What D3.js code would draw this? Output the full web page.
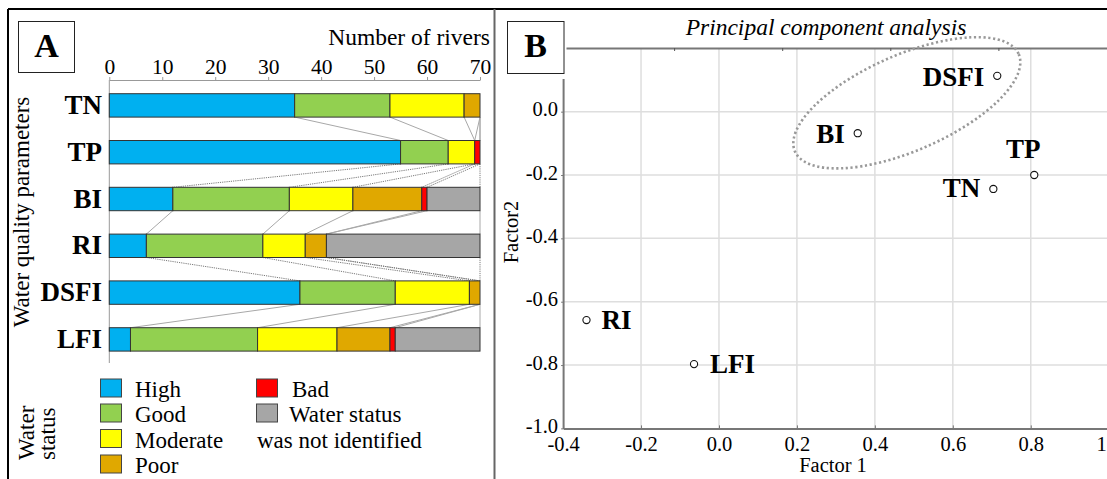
<!DOCTYPE html>
<html><head><meta charset="utf-8">
<script src="https://cdn.jsdelivr.net/npm/d3@7"></script>
<style>
body{margin:0;background:#fff}
svg{display:block}
text{font-family:"Liberation Serif","Times New Roman",serif;fill:#000}
</style>
</head><body><svg id="c" width="1107" height="479"></svg>
<script>
// ---------- Panel A data ----------
const params = ["TN","TP","BI","RI","DSFI","LFI"];
const statusKeys = ["high","good","moderate","poor","bad","na"];
const high = [35,55,12,7,36,4];
const good = [18,9,22,22,18,24];
const moderate = [14,5,12,8,14,15];
const poor = [3,0,13,4,2,10];
const bad = [0,1,1,0,0,1];
const notIdentified = [0,0,10,29,0,16];
const riverTicks = [0,10,20,30,40,50,60,70];
const legendCol1 = ["High","Good","Moderate","Poor"];

// ---------- Panel B data ----------
const pcaLabels = ["DSFI","BI","TP","TN","RI","LFI"];
const factor1 = [0.714,0.356,0.809,0.704,-0.340,-0.064];
const factor2 = [0.113,-0.068,-0.200,-0.244,-0.658,-0.797];
const factor1Ticks = [-0.4,-0.2,0.0,0.2,0.4,0.6,0.8,1.0];
const factor2Ticks = [0.0,-0.2,-0.4,-0.6,-0.8,-1.0];
const clusterCenter = [0.482,0.028];

// ---------- styling ----------
const colors = {high:"#00B0F0",good:"#92D050",moderate:"#FFFF00",poor:"#E0A800",bad:"#FF0000",na:"#A6A6A6"};
const serif = '"Liberation Serif","Times New Roman",serif';
const fmt = d => d3.format(".1f")(d).replace("\u2212","-");
const svg = d3.select("#c");
svg.append("rect").attr("width",1107).attr("height",479).attr("fill","#fff");

// ======================= PANEL A =======================
const rows = params.map((p,i)=>({param:p,high:high[i],good:good[i],moderate:moderate[i],poor:poor[i],bad:bad[i],na:notIdentified[i]}));
const stack = d3.stack().keys(statusKeys)(rows);
const x = d3.scaleLinear().domain([0,70]).range([109.3,480]);
const y = d3.scaleBand().domain(params).range([82,362.8]).paddingInner(0.5).paddingOuter(0.25);

const A = svg.append("g");
const ax = A.append("g").attr("transform","translate(0,80)")
  .call(d3.axisTop(x).tickValues(riverTicks).tickSize(3).tickSizeOuter(0).tickPadding(3));
ax.select(".domain").attr("stroke","#999");
ax.selectAll(".tick line").attr("stroke","#999");
ax.selectAll(".tick text").attr("font-family",serif).attr("font-size",21.5).attr("fill","#000");
A.append("line").attr("x1",x(0)).attr("x2",x(0)).attr("y1",80).attr("y2",363).attr("stroke","#999");
A.append("text").attr("x",490).attr("y",45).attr("text-anchor","end").attr("font-size",23.5).text("Number of rivers");

// connector lines
for(let g=0; g<params.length-1; g++){
  stack.forEach(s=>{
    const a = s[g][1], b = s[g+1][1];
    A.append("line")
      .attr("x1",x(a)).attr("y1",y(params[g])+y.bandwidth())
      .attr("x2",x(b)).attr("y2",y(params[g+1]))
      .attr("stroke", g%2===1 ? "#7a7a7a" : "#a8a8a8")
      .attr("stroke-width", 1)
      .attr("stroke-dasharray", g%2===1 ? "1.2,1" : null);
  });
}

// bars
A.selectAll("g.series").data(stack).join("g").attr("class","series")
  .attr("fill",d=>colors[d.key])
  .selectAll("rect").data(d=>d).join("rect")
  .attr("x",d=>x(d[0])).attr("width",d=>x(d[1])-x(d[0]))
  .attr("y",d=>y(d.data.param)).attr("height",y.bandwidth())
  .attr("stroke",d=>(d[1]-d[0])>0?"#333":"none").attr("stroke-width",1);

// category labels
A.selectAll("text.cat").data(params).join("text").attr("class","cat")
  .attr("x",102).attr("y",d=>y(d)+y.bandwidth()/2+8.5)
  .attr("text-anchor","end").attr("font-weight","bold").attr("font-size",27).text(d=>d);

A.append("text").attr("transform","translate(28.5,212) rotate(-90)").attr("text-anchor","middle")
  .attr("font-size",23).text("Water quality parameters");

// A box
A.append("rect").attr("x",18.5).attr("y",21.5).attr("width",56).attr("height",51).attr("fill","#fff").attr("stroke","#222");
A.append("text").attr("x",46.5).attr("y",57).attr("text-anchor","middle").attr("font-weight","bold").attr("font-size",34).text("A");

// legend
A.append("text").attr("transform","translate(33.5,460) rotate(-90)").attr("font-size",23).text("Water");
A.append("text").attr("transform","translate(55,460) rotate(-90)").attr("font-size",23).text("status");
const legY = [397,422,447.5,473];
legendCol1.forEach((t,i)=>{
  A.append("rect").attr("x",100.5).attr("y",legY[i]-18).attr("width",21).attr("height",18)
    .attr("fill",colors[statusKeys[i]]).attr("stroke","#444");
  A.append("text").attr("x",135).attr("y",legY[i]).attr("font-size",23).text(t);
});
A.append("rect").attr("x",256.5).attr("y",legY[0]-18).attr("width",21).attr("height",18).attr("fill",colors.bad).attr("stroke","#444");
A.append("text").attr("x",292).attr("y",legY[0]).attr("font-size",23).text("Bad");
A.append("rect").attr("x",256.5).attr("y",legY[1]-18).attr("width",21).attr("height",18).attr("fill",colors.na).attr("stroke","#444");
A.append("text").attr("x",289).attr("y",legY[1]).attr("font-size",23).text("Water status");
A.append("text").attr("x",257).attr("y",legY[2]).attr("font-size",23).text("was not identified");

// ======================= PANEL B =======================
const B = svg.append("g");
const xp = d3.scaleLinear().domain([-0.4,1.0]).range([563.1,1108.7]);
const yp = d3.scaleLinear().domain([-1.0,0.105]).range([428.4,78.4]);
const topScale = d3.scaleLinear().domain([0,5]).range([566,1106.5]);
const topY = 48;

// grid
B.selectAll("line.vg").data(factor1Ticks.filter(d=>d>-0.4)).join("line").attr("class","vg")
  .attr("x1",d=>xp(d)).attr("x2",d=>xp(d)).attr("y1",topY).attr("y2",yp(-1))
  .attr("stroke","#dedede").attr("stroke-width",1.5);
B.selectAll("line.hg").data(factor2Ticks.filter(d=>d>-1)).join("line").attr("class","hg")
  .attr("x1",xp(-0.4)).attr("x2",1107).attr("y1",d=>yp(d)).attr("y2",d=>yp(d))
  .attr("stroke","#dedede").attr("stroke-width",1.5);

// top frame line with ticks
const tg = B.append("g").attr("transform",`translate(0,${topY})`)
  .call(d3.axisBottom(topScale).tickValues([1,2,3,4]).tickSize(3).tickSizeOuter(0).tickFormat(""));
tg.select(".domain").attr("stroke","#777").attr("stroke-width",2);
tg.selectAll(".tick line").attr("stroke","#555");

// x axis
const xg = B.append("g").attr("transform",`translate(0,${yp(-1)})`)
  .call(d3.axisBottom(xp).tickValues(factor1Ticks).tickSize(3).tickSizeOuter(0).tickPadding(5).tickFormat(fmt));
xg.select(".domain").attr("stroke","#777").attr("stroke-width",2);
xg.selectAll(".tick line").attr("stroke","#777").attr("transform","translate(0,-3)");
xg.selectAll(".tick text").attr("font-family",serif).attr("font-size",20.5).attr("fill","#000");

// y axis
const yg = B.append("g").attr("transform",`translate(${xp(-0.4)},0)`)
  .call(d3.axisLeft(yp).tickValues(factor2Ticks).tickSize(2).tickSizeOuter(0).tickPadding(3).tickFormat(fmt));
yg.select(".domain").attr("stroke","#777").attr("stroke-width",2);
yg.selectAll(".tick line").attr("stroke","#777");
yg.selectAll(".tick text").attr("font-family",serif).attr("font-size",20.5).attr("fill","#000").attr("dy","0.2em");

B.append("text").attr("x",833).attr("y",471.5).attr("text-anchor","middle").attr("font-size",20.5).text("Factor 1");
B.append("text").attr("transform","translate(518,232) rotate(-90)").attr("text-anchor","middle").attr("font-size",20.5).text("Factor2");
B.append("text").attr("x",826).attr("y",35).attr("text-anchor","middle").attr("font-style","italic").attr("font-size",23.5).text("Principal component analysis");

// cluster ellipse
const ec = [xp(clusterCenter[0]), yp(clusterCenter[1])];
B.append("ellipse").attr("cx",0).attr("cy",0).attr("rx",122).attr("ry",48)
  .attr("transform",`translate(${ec[0]},${ec[1]}) rotate(-23.5)`)
  .attr("fill","none").attr("stroke","#999").attr("stroke-width",2.6).attr("stroke-dasharray","2.2,2.6");

// points + labels
const labelPlace = {DSFI:["end",-13,10],BI:["end",-13,9.5],TP:["middle",-11,-17],TN:["end",-13,8],RI:["start",15,8.5],LFI:["start",16,9]};
pcaLabels.forEach((lab,i)=>{
  const cx = xp(factor1[i]), cy = yp(factor2[i]);
  B.append("circle").attr("cx",cx).attr("cy",cy).attr("r",3.6).attr("fill","#fff").attr("stroke","#111").attr("stroke-width",1.1);
  const p = labelPlace[lab];
  B.append("text").attr("x",cx+p[1]).attr("y",cy+p[2]).attr("text-anchor",p[0])
    .attr("font-weight","bold").attr("font-size",27).text(lab);
});

// B box
B.append("rect").attr("x",507.5).attr("y",21.5).attr("width",56.5).attr("height",52).attr("fill","#fff").attr("stroke","#222");
B.append("text").attr("x",535.5).attr("y",57).attr("text-anchor","middle").attr("font-weight","bold").attr("font-size",34).text("B");

// figure frame
svg.append("line").attr("x1",8).attr("x2",1107).attr("y1",9).attr("y2",9).attr("stroke","#000").attr("stroke-width",2);
svg.append("line").attr("x1",8).attr("x2",8).attr("y1",9).attr("y2",479).attr("stroke","#000").attr("stroke-width",2);
svg.append("line").attr("x1",494.5).attr("x2",494.5).attr("y1",9).attr("y2",479).attr("stroke","#666").attr("stroke-width",2);
</script>
</body></html>
